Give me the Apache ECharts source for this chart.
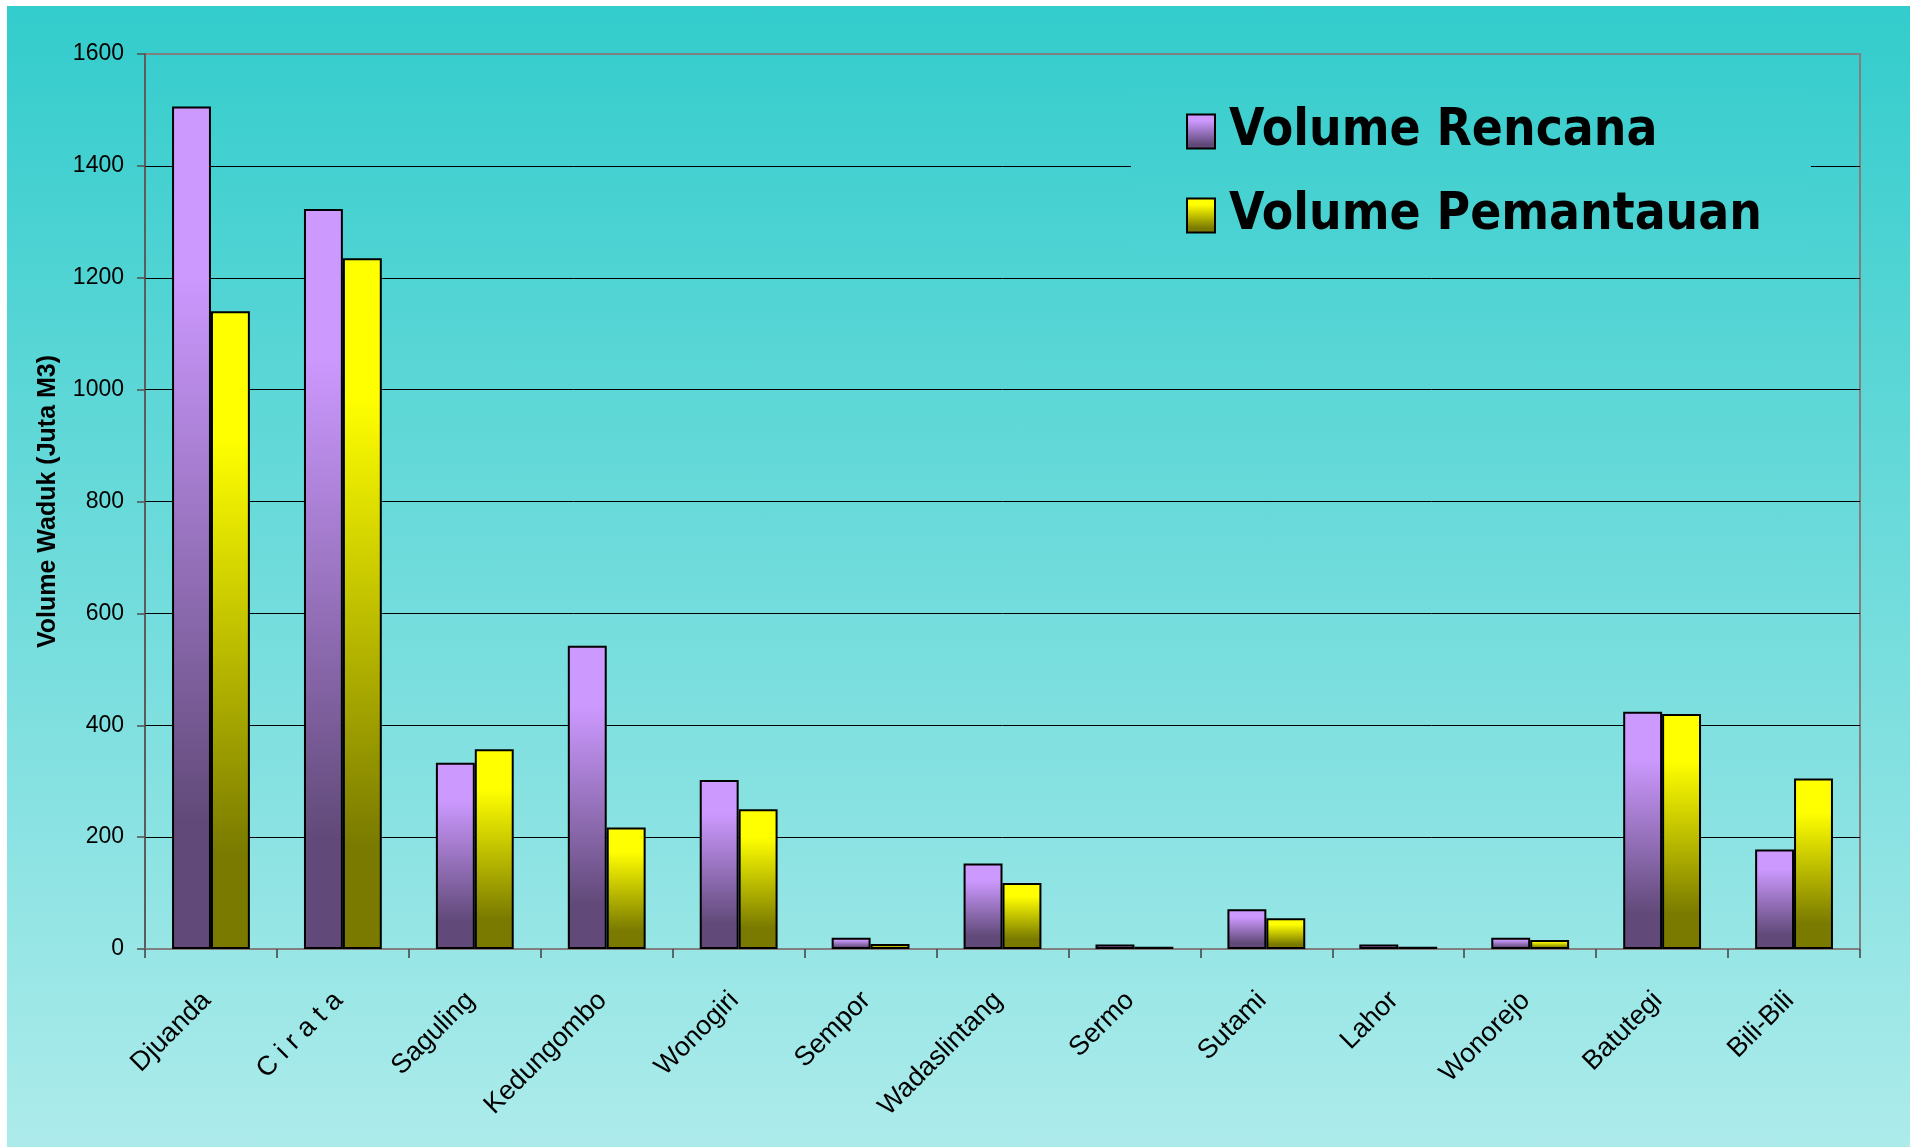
<!DOCTYPE html>
<html>
<head>
<meta charset="utf-8">
<script src="https://cdn.jsdelivr.net/npm/echarts@6/dist/echarts.min.js"></script>
<style>
  html, body { margin: 0; padding: 0; background: #ffffff; }
  #bg { position: absolute; left: 7px; top: 6px; width: 1903px; height: 1141px;
        background: linear-gradient(to bottom, #33CCCC, #ADEBEB); }
  #chart { position: absolute; left: 0; top: 0; width: 1917px; height: 1147px; }
</style>
</head>
<body>
<div id="bg"></div>
<div id="chart"></div>
<script>
// ---- data ----
const categories = ['Djuanda', 'C i r a t a', 'Saguling', 'Kedungombo', 'Wonogiri', 'Sempor',
  'Wadaslintang', 'Sermo', 'Sutami', 'Lahor', 'Wonorejo', 'Batutegi', 'Bili-Bili'];
const volumeRencana = [1506, 1323, 333, 542, 302, 20, 153, 8, 71, 8, 20, 424, 178];
const volumePemantauan = [1140, 1235, 357, 217, 250, 9, 118, 4, 55, 4, 16, 420, 305];
const seriesNames = ['Volume Rencana', 'Volume Pemantauan'];
const yAxisTitle = 'Volume Waduk (Juta M3)';

function grad(top, bottom) {
  return { type: 'linear', x: 0, y: 0, x2: 0, y2: 1,
    colorStops: [
      { offset: 0, color: top }, { offset: 0.2, color: top },
      { offset: 0.85, color: bottom }, { offset: 1, color: bottom }
    ] };
}
function bgAt(y) {
  const t = (y - 6) / 1141;
  const r = Math.round(0x33 + (0xAD - 0x33) * t);
  const g = Math.round(0xCC + (0xEB - 0xCC) * t);
  return 'rgb(' + r + ',' + g + ',' + g + ')';
}
const legTop = 86, legBottom = 259;

const chart = echarts.init(document.getElementById('chart'));
chart.setOption({
  backgroundColor: 'transparent',
  animation: false,
  textStyle: { fontFamily: 'Liberation Sans' },
  grid: { left: 145, right: 57, top: 54, bottom: 198, show: true,
          borderColor: '#808080', borderWidth: 2, backgroundColor: 'transparent' },
  legend: {
    orient: 'vertical', left: 1131, top: legTop,
    padding: [20, 49, 20, 55],
    icon: 'rect',
    itemWidth: 28, itemHeight: 34, itemGap: 33,
    backgroundColor: { type: 'linear', x: 0, y: 0, x2: 0, y2: 1,
      colorStops: [{ offset: 0, color: bgAt(legTop) }, { offset: 1, color: bgAt(legBottom) }] },
    textStyle: { fontFamily: 'DejaVu Sans Condensed', fontWeight: 'bold', fontSize: 51,
                 color: '#000', lineHeight: 50, padding: [0, 0, 0, 9] },
    data: seriesNames
  },
  xAxis: {
    type: 'category', data: categories,
    axisLine: { lineStyle: { color: '#808080', width: 2 } },
    axisTick: { show: true, length: 9, lineStyle: { color: '#404040', width: 1.5 } },
    axisLabel: { rotate: 45, fontSize: 27, color: '#000', margin: 43, interval: 0,
                 padding: [0, 6, 0, 0], fontFamily: 'Liberation Sans' }
  },
  yAxis: {
    type: 'value', min: 0, max: 1600, interval: 200,
    name: yAxisTitle, nameLocation: 'middle', nameRotate: 90, nameGap: 84,
    nameTextStyle: { fontSize: 25, fontWeight: 'bold', color: '#000', fontFamily: 'Liberation Sans' },
    axisLine: { show: true, lineStyle: { color: '#505050', width: 1.5 } },
    axisTick: { show: true, length: 8, lineStyle: { color: '#505050', width: 1.5 } },
    axisLabel: { fontSize: 23, color: '#000', margin: 21, fontFamily: 'Liberation Sans',
                 formatter: function (v) { return String(v); } },
    splitLine: { show: true, lineStyle: { width: 1,
      color: ['#808080', '#000', '#000', '#000', '#000', '#000', '#000', '#000', '#808080'] } }
  },
  series: [
    { name: seriesNames[0], type: 'bar', data: volumeRencana, barGap: '0%', barCategoryGap: '41%',
      itemStyle: { color: grad('#CC99FF', '#614A79'), borderColor: '#000', borderWidth: 2 } },
    { name: seriesNames[1], type: 'bar', data: volumePemantauan, barGap: '0%', barCategoryGap: '41%',
      itemStyle: { color: grad('#FFFF00', '#7A7A00'), borderColor: '#000', borderWidth: 2 } }
  ]
});
</script>
</body>
</html>
